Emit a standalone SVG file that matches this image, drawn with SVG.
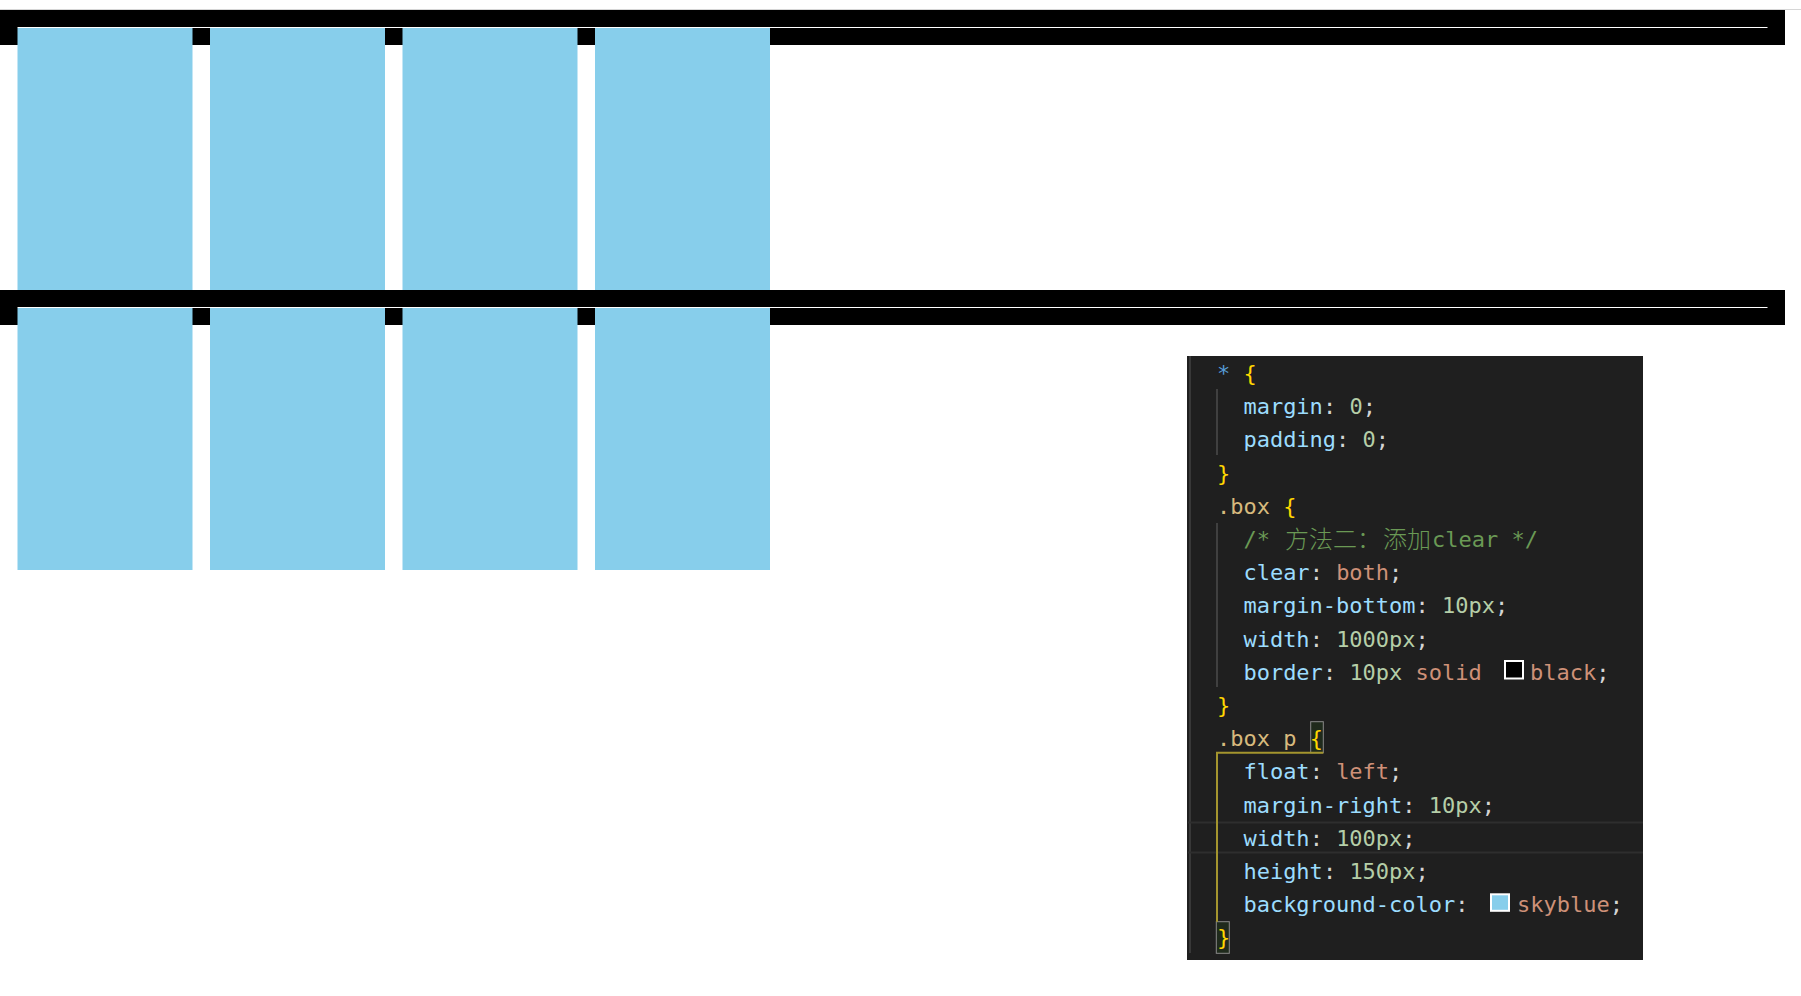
<svg xmlns="http://www.w3.org/2000/svg" width="1801" height="996" viewBox="0 0 1801 996">
<style>
.border{fill:#000}
.gap{fill:#fff}
.p{fill:#87ceeb}
.code{font-family:"DejaVu Sans Mono","Liberation Mono",monospace;font-size:22px;fill:#d4d4d4}
.cjk{font-family:"Noto Sans CJK SC","Noto Sans",sans-serif;font-size:24px;font-weight:300;fill:#6a9955}
.sel{fill:#569cd6}
.br{fill:#ffd700}
.prop{fill:#9cdcfe}
.num{fill:#b5cea8}
.val{fill:#ce9178}
.cls{fill:#d7ba7d}
.cmt{fill:#6a9955}
.guide{stroke:#404040;stroke-width:2;fill:none}
</style>
<rect x="0" y="0" width="1801" height="996" fill="#fff"/>
<rect x="0" y="9" width="1801" height="1" fill="#d6d6d6"/>

<g id="box1">
<rect class="border" x="0" y="10" width="1785" height="35"/>
<rect class="gap" x="17.5" y="27" width="1750" height="1"/>
</g>
<g id="box1-p1"><rect class="p" x="17.5" y="28" width="175" height="262"/></g>
<g id="box1-p2"><rect class="p" x="210" y="28" width="175" height="262"/></g>
<g id="box1-p3"><rect class="p" x="402.5" y="28" width="175" height="262"/></g>
<g id="box1-p4"><rect class="p" x="595" y="28" width="175" height="262"/></g>

<g id="box2">
<rect class="border" x="0" y="290" width="1785" height="35"/>
<rect class="gap" x="17.5" y="307" width="1750" height="1"/>
</g>
<g id="box2-p1"><rect class="p" x="17.5" y="308" width="175" height="262"/></g>
<g id="box2-p2"><rect class="p" x="210" y="308" width="175" height="262"/></g>
<g id="box2-p3"><rect class="p" x="402.5" y="308" width="175" height="262"/></g>
<g id="box2-p4"><rect class="p" x="595" y="308" width="175" height="262"/></g>

<g id="code-panel">
<rect x="1187" y="356" width="456" height="604" fill="#1f1f1f"/>
<rect x="1189" y="356" width="2" height="597" fill="#383838"/>
<rect x="1188" y="821.5" width="455" height="2" fill="#2e2e2e"/>
<rect x="1188" y="851.5" width="455" height="2" fill="#2e2e2e"/>
<line class="guide" x1="1217" y1="389" x2="1217" y2="455"/>
<line class="guide" x1="1217" y1="523" x2="1217" y2="687"/>
<rect x="1310.7" y="721.7" width="12.6" height="31" fill="#1f2a1c" stroke="#8a8a8a" stroke-width="1"/>
<rect x="1216.3" y="921.7" width="13" height="31.6" fill="#1f2a1c" stroke="#8a8a8a" stroke-width="1"/>
<polyline points="1323.3,752.7 1217,752.7 1217,921.7" fill="none" stroke="#a4952e" stroke-width="2"/>
<rect x="1505" y="661" width="18" height="17.5" fill="#000" stroke="#fff" stroke-width="2"/>
<rect x="1491" y="894.3" width="18" height="16.5" fill="#87ceeb" stroke="#fff" stroke-width="2"/>

<text class="code" xml:space="preserve" x="1217" y="381"><tspan class="sel">*</tspan> <tspan class="br">{</tspan></text>
<text class="code" xml:space="preserve" x="1243.4" y="414.2"><tspan class="prop">margin</tspan>: <tspan class="num">0</tspan>;</text>
<text class="code" xml:space="preserve" x="1243.4" y="447.4"><tspan class="prop">padding</tspan>: <tspan class="num">0</tspan>;</text>
<text class="code" xml:space="preserve" x="1217" y="480.6"><tspan class="br">}</tspan></text>
<text class="code" xml:space="preserve" x="1217" y="513.8"><tspan class="cls">.box</tspan> <tspan class="br">{</tspan></text>
<text class="code cmt" x="1243.4" y="547">/*</text>
<text class="cjk" x="1285" y="548">方法二：</text>
<text class="cjk" x="1383" y="548">添加</text>
<text class="code cmt" xml:space="preserve" x="1432" y="547">clear */</text>
<text class="code" xml:space="preserve" x="1243.4" y="580.2"><tspan class="prop">clear</tspan>: <tspan class="val">both</tspan>;</text>
<text class="code" xml:space="preserve" x="1243.4" y="613.4"><tspan class="prop">margin-bottom</tspan>: <tspan class="num">10px</tspan>;</text>
<text class="code" xml:space="preserve" x="1243.4" y="646.6"><tspan class="prop">width</tspan>: <tspan class="num">1000px</tspan>;</text>
<text class="code" xml:space="preserve" x="1243.4" y="679.8"><tspan class="prop">border</tspan>: <tspan class="num">10px</tspan> <tspan class="val">solid</tspan></text>
<text class="code" xml:space="preserve" x="1530" y="679.8"><tspan class="val">black</tspan>;</text>
<text class="code" xml:space="preserve" x="1217" y="713"><tspan class="br">}</tspan></text>
<text class="code" xml:space="preserve" x="1217" y="746.2"><tspan class="cls">.box p</tspan> <tspan class="br">{</tspan></text>
<text class="code" xml:space="preserve" x="1243.4" y="779.4"><tspan class="prop">float</tspan>: <tspan class="val">left</tspan>;</text>
<text class="code" xml:space="preserve" x="1243.4" y="812.6"><tspan class="prop">margin-right</tspan>: <tspan class="num">10px</tspan>;</text>
<text class="code" xml:space="preserve" x="1243.4" y="845.8"><tspan class="prop">width</tspan>: <tspan class="num">100px</tspan>;</text>
<text class="code" xml:space="preserve" x="1243.4" y="879"><tspan class="prop">height</tspan>: <tspan class="num">150px</tspan>;</text>
<text class="code" xml:space="preserve" x="1243.4" y="912.2"><tspan class="prop">background-color</tspan>:</text>
<text class="code" xml:space="preserve" x="1517" y="912.2"><tspan class="val">skyblue</tspan>;</text>
<text class="code" xml:space="preserve" x="1217" y="945.4"><tspan class="br">}</tspan></text>
</g>
</svg>
